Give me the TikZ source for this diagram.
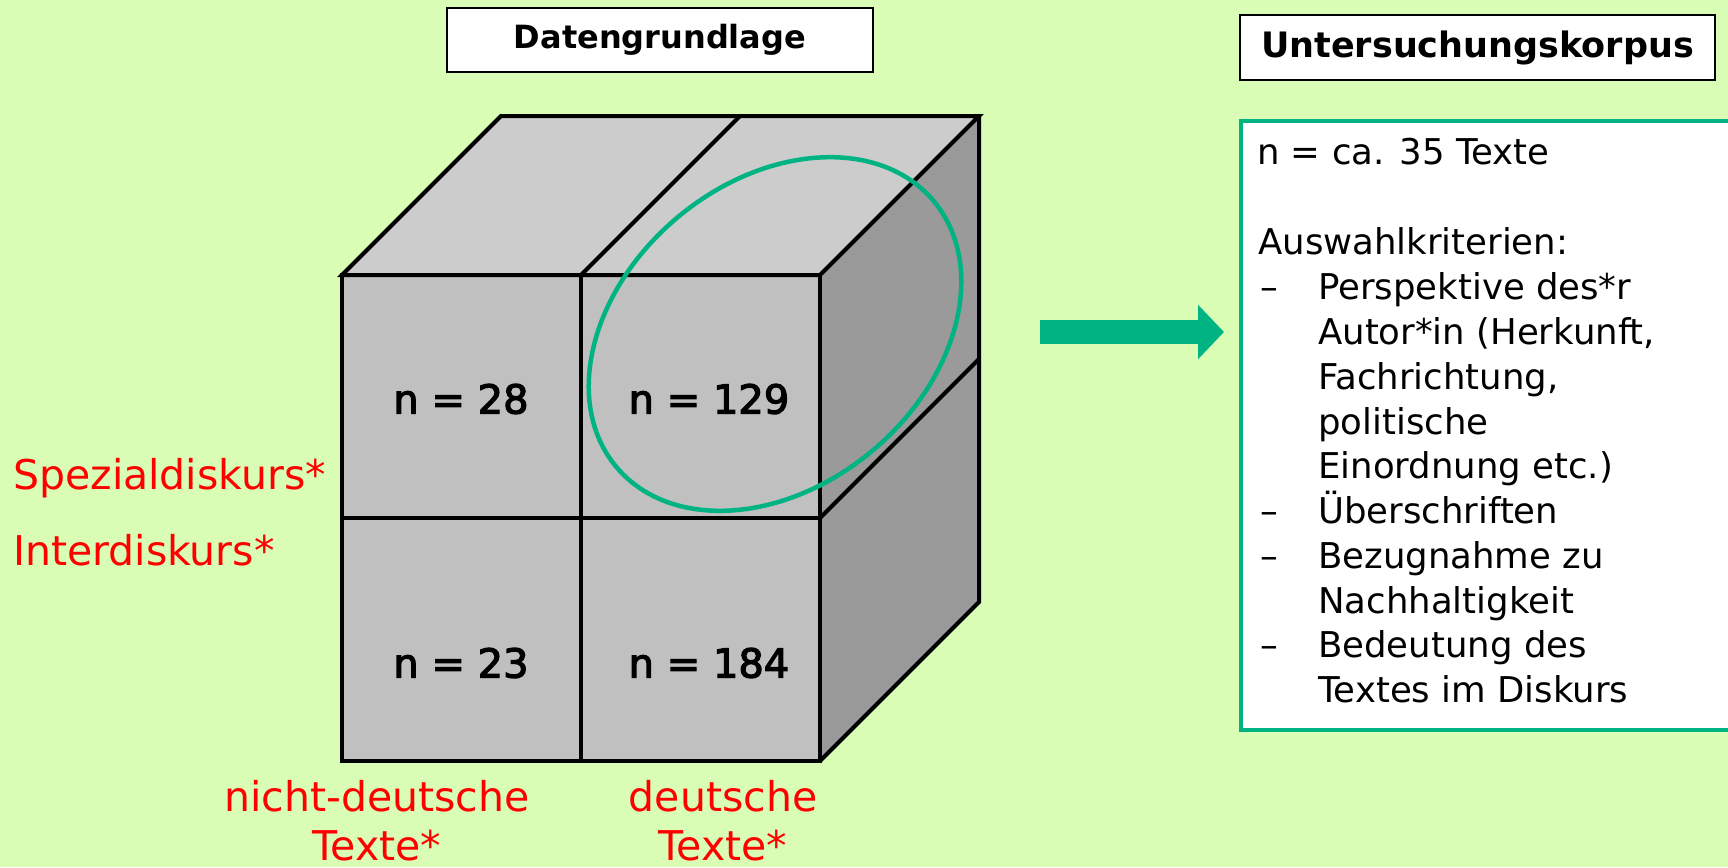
\documentclass[tikz,border=0pt]{standalone}
\usepackage{fontspec}
\setmainfont{DejaVu Sans}
\newfontfamily\semibfont[FakeBold=3]{DejaVu Sans}
\usetikzlibrary{arrows.meta}
\definecolor{bg}{HTML}{D9FDB5}
\definecolor{tealgreen}{HTML}{00B383}
\definecolor{topgray}{HTML}{CCCCCC}
\definecolor{frontgray}{HTML}{C0C0C0}
\definecolor{sidegray}{HTML}{9A9A9A}
\begin{document}
\begin{tikzpicture}[x=1pt,y=-1pt,
  titlebox/.style={draw=black, line width=1.5pt, fill=white, inner sep=0pt},
  cubeline/.style={draw=black, line width=4pt, line join=miter},
  cellnum/.style={font=\fontsize{40}{44}\semibfont, inner sep=0pt},
  redlabel/.style={text=red, font=\fontsize{41}{50}\selectfont, inner sep=0pt},
  boxtext/.style={font=\fontsize{35.5}{44.8}\selectfont, inner sep=0pt, anchor=base west}]
\fill[bg] (0,0) rectangle (1728,867);
\useasboundingbox (0,0) rectangle (1728,867);

% title boxes
\node[titlebox, minimum width=426pt, minimum height=64pt, font=\fontsize{32}{38}\selectfont\bfseries] (daten) at (660,40) {Datengrundlage};
\node[titlebox, minimum width=475pt, minimum height=65pt, font=\fontsize{35}{40}\selectfont\bfseries] (unters) at (1477.5,47.5) {Untersuchungskorpus};

% cube
\coordinate (F1) at (342,275);
\coordinate (F2) at (820,275);
\coordinate (F3) at (820,761);
\coordinate (F4) at (342,761);
\coordinate (B1) at (501,116);
\coordinate (B2) at (979,116);
\coordinate (B3) at (979,602);
\fill[topgray] (F1) -- (B1) -- (B2) -- (F2) -- cycle;
\fill[sidegray] (F2) -- (B2) -- (B3) -- (F3) -- cycle;
\fill[frontgray] (F1) rectangle (F3);
\draw[cubeline] (F1) -- (B1) -- (B2) -- (F2) -- cycle;
\draw[cubeline] (B2) -- (B3) -- (F3);
\draw[cubeline] (F1) rectangle (F3);
\draw[cubeline] (581,275) -- (740,116);
\draw[cubeline] (581,275) -- (581,761);
\draw[cubeline] (342,518) -- (820,518);
\draw[cubeline] (820,518) -- (979,359);

% ellipse
\draw[tealgreen, line width=4.5pt] (775,334) ellipse [x radius=207, y radius=152, rotate=40];

% cell numbers
\node[cellnum] (c28) at (461,399) {n = 28};
\node[cellnum] (c129) at (709,399) {n = 129};
\node[cellnum] (c23) at (461,663) {n = 23};
\node[cellnum] (c184) at (709,663) {n = 184};

% red labels
\node[redlabel, anchor=base west] (spez) at (13,489) {Spezialdiskurs*};
\node[redlabel, anchor=base west] (inter) at (13,565) {Interdiskurs*};
\node[redlabel, anchor=base] (nd1) at (377,811) {nicht-deutsche};
\node[redlabel, anchor=base] (nd2) at (377,860) {Texte*};
\node[redlabel, anchor=base] (d1) at (723,811) {deutsche};
\node[redlabel, anchor=base] (d2) at (723,860) {Texte*};

% arrow
\coordinate (as) at (1040,332);
\coordinate (ae) at (1224,332);
\draw[tealgreen, line width=24pt, -{Triangle[length=26pt,width=53pt]}] (as) -- (ae);

% corpus box
\draw[tealgreen, line width=4pt, fill=white] (1241,121) rectangle (1735,730);
\node[boxtext] (t1) at (1257,164) {n = ca. 35 Texte};
\node[boxtext] (t2) at (1258,254) {Auswahlkriterien:};
\node[boxtext] (d1a) at (1260,299) {–};
\node[boxtext] (t3) at (1318,299) {Perspektive des*r};
\node[boxtext] (t4) at (1318,344) {Autor*in (Herkunft,};
\node[boxtext] (t5) at (1318,389) {Fachrichtung,};
\node[boxtext] (t6) at (1318,434) {politische};
\node[boxtext] (t7) at (1318,478) {Einordnung etc.)};
\node[boxtext] (d2a) at (1260,523) {–};
\node[boxtext] (t8) at (1318,523) {Überschriften};
\node[boxtext] (d3a) at (1260,568) {–};
\node[boxtext] (t9) at (1318,568) {Bezugnahme zu};
\node[boxtext] (t10) at (1318,613) {Nachhaltigkeit};
\node[boxtext] (d4a) at (1260,657) {–};
\node[boxtext] (t11) at (1318,657) {Bedeutung des};
\node[boxtext] (t12) at (1318,702) {Textes im Diskurs};
\end{tikzpicture}
\end{document}
